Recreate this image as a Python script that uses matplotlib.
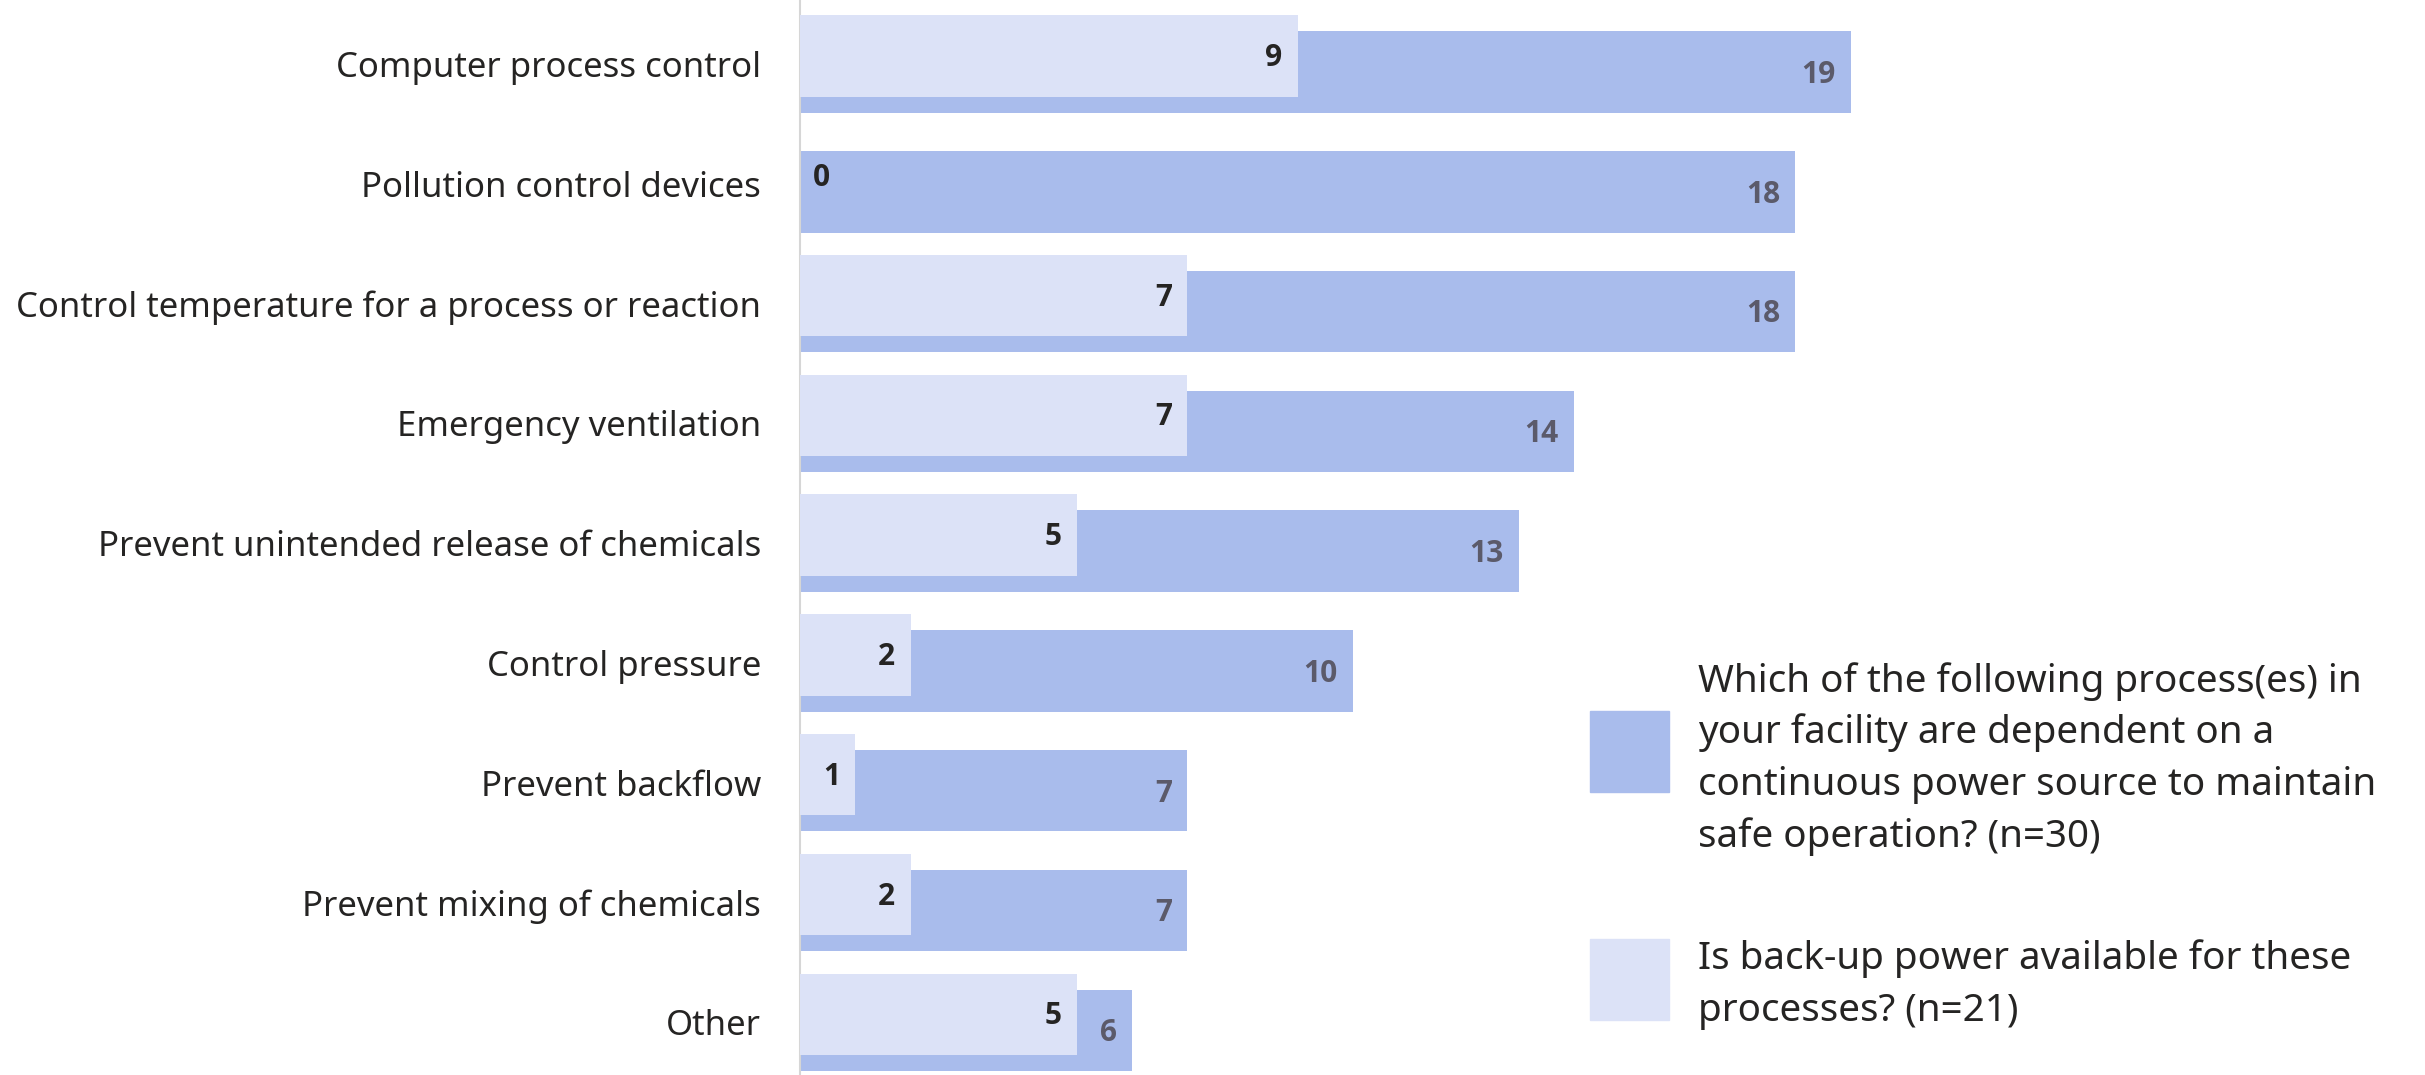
import matplotlib
matplotlib.use("Agg")
import matplotlib.pyplot as plt
from matplotlib.patches import Rectangle
import numpy as np

categories = [
    "Computer process control",
    "Pollution control devices",
    "Control temperature for a process or reaction",
    "Emergency ventilation",
    "Prevent unintended release of chemicals",
    "Control pressure",
    "Prevent backflow",
    "Prevent mixing of chemicals",
    "Other",
]
dependent = [19, 18, 18, 14, 13, 10, 7, 7, 6]
backup = [9, 0, 7, 7, 5, 2, 1, 2, 5]
legend_labels = [
    "Which of the following process(es) in\nyour facility are dependent on a\ncontinuous power source to maintain\nsafe operation? (n=30)",
    "Is back-up power available for these\nprocesses? (n=21)",
]

DARK = "#A9BCEC"
LIGHT = "#DCE2F7"
TXT = "#252423"
TXT2 = "#5B5A6A"
FONT = ["Noto Sans", "DejaVu Sans"]
NUMFONT = ["Open Sans", "DejaVu Sans"]
plt.rcParams["font.family"] = FONT

W, H = 2425, 1075
fig = plt.figure(figsize=(W / 100, H / 100), dpi=100)
ax = fig.add_axes([800 / W, 0, 1 - 800 / W, 1])

y = np.arange(len(categories))
h = 0.68
off = 0.067
ax.barh(y + off, dependent, height=h, color=DARK, zorder=2)
ax.barh(y - off, backup, height=h, color=LIGHT, zorder=3)

numkw = dict(fontsize=21.5, fontweight="bold", family=NUMFONT, va="center", zorder=5,
             textcoords="offset points")
for yi, v in zip(y, dependent):
    ax.annotate(str(v), (v, yi + off), xytext=(-11, -2), ha="right", color=TXT2, **numkw)
for yi, v in zip(y, backup):
    if v == 0:
        ax.annotate(str(v), (v, yi - off), xytext=(9, -1.5), ha="left", color=TXT, **numkw)
    else:
        ax.annotate(str(v), (v, yi - off), xytext=(-11, -1.5), ha="right", color=TXT, **numkw)

ax.set_xlim(0, (W - 800) / 55.3)
ax.set_ylim(8.44, -0.535)
ax.set_yticks(y)
ax.set_yticklabels(categories, fontsize=25, color=TXT)
ax.tick_params(axis="y", length=0, pad=28)
ax.set_xticks([])
for s in ["top", "right", "bottom"]:
    ax.spines[s].set_visible(False)
ax.spines["left"].set_color("#D6D6D6")
ax.spines["left"].set_linewidth(1.5)
ax.set_facecolor("none")

# legend
sq = [(1590, 711, 79, 81, DARK), (1590, 939, 79, 81, LIGHT)]
for (x0, y0, w, hh, c) in sq:
    fig.patches.append(Rectangle((x0 / W, 1 - (y0 + hh) / H), w / W, hh / H,
                                 transform=fig.transFigure, color=c))
for label, base in zip(legend_labels, [692, 969]):
    for i, line in enumerate(label.split("\n")):
        fig.text(1698 / W, 1 - (base + 51.5 * i) / H, line, fontsize=27.8, color=TXT,
                 va="baseline", ha="left")

fig.savefig("out.png", dpi=100, facecolor="white")
